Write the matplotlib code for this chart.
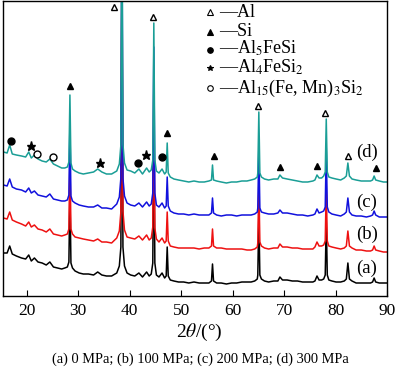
import matplotlib
matplotlib.use('Agg')
import matplotlib.pyplot as plt

plt.rcParams['font.family'] = ['Liberation Serif', 'DejaVu Serif']
plt.rcParams['mathtext.fontset'] = 'stix'

# 2theta grid shared by the four patterns (deg)
two_theta = [15.5, 16.2, 16.7, 17.2, 18.0, 19.0, 19.8, 20.4, 20.9, 21.5,
             22.2, 23.0, 23.8, 24.5, 25.2, 26.0, 26.8, 27.4, 27.9, 28.2,
             28.4, 28.6, 28.9, 29.4, 30.2, 31.0, 32.0, 33.0, 33.8, 34.6,
             35.5, 36.5, 37.5, 38.0, 38.3, 38.5, 38.7, 39.0, 39.5, 40.2,
             41.0, 41.8, 42.5, 43.3, 43.8, 44.2, 44.5, 44.7, 44.9, 45.2,
             45.7, 46.3, 46.8, 47.1, 47.3, 47.5, 47.9, 48.6, 49.5, 50.5,
             51.5, 52.5, 53.5, 54.5, 55.4, 55.9, 56.1, 56.3, 56.9, 57.8,
             58.8, 59.8, 60.8, 61.8, 62.8, 63.6, 64.3, 64.8, 64.9, 65.1,
             65.3, 65.6, 66.2, 67.0, 68.0, 68.8, 69.2, 69.7, 70.6, 71.6,
             72.6, 73.6, 74.6, 75.6, 76.0, 76.4, 76.8, 77.3, 77.7, 78.0,
             78.2, 78.4, 78.7, 79.3, 80.1, 81.0, 81.7, 82.1, 82.4, 82.7,
             83.2, 84.0, 85.0, 86.0, 86.8, 87.2, 87.5, 87.8, 88.5, 89.3,
             90.0]

# intensities (a.u., curves already stacked)
int_a = [43, 43, 50, 42, 40, 38, 37, 41, 35, 38,
         34, 33, 31, 34, 29, 28, 27, 28, 29, 34,
         106, 33, 28, 25, 23, 22, 22, 21, 24, 21,
         20, 20, 23, 30, 49, 319, 49, 30, 23, 21,
         20, 23, 19, 24, 20, 22, 33, 175, 33, 21,
         19, 23, 18, 20, 49, 20, 16, 15, 14, 14,
         13, 14, 13, 13, 13, 15, 32, 15, 13, 13,
         12, 13, 13, 14, 14, 14, 15, 17, 21, 82,
         21, 17, 15, 14, 15, 15, 19, 16, 16, 15,
         15, 14, 14, 14, 15, 20, 16, 16, 17, 21,
         76, 21, 16, 15, 14, 14, 15, 17, 33, 17,
         15, 13, 13, 13, 13, 14, 18, 14, 13, 13,
         13]
int_b = [78, 77, 84, 76, 74, 72, 70, 74, 69, 71,
         67, 66, 64, 67, 62, 61, 60, 61, 62, 67,
         139, 67, 62, 59, 58, 57, 56, 55, 57, 54,
         54, 53, 58, 65, 84, 354, 85, 66, 59, 58,
         57, 60, 56, 61, 56, 58, 69, 211, 68, 57,
         54, 58, 53, 55, 84, 55, 50, 49, 48, 48,
         48, 48, 47, 48, 48, 50, 67, 50, 48, 48,
         47, 47, 47, 47, 46, 46, 47, 49, 53, 114,
         54, 50, 48, 47, 48, 48, 52, 49, 49, 48,
         48, 47, 47, 47, 49, 54, 50, 50, 51, 55,
         110, 55, 50, 49, 48, 47, 48, 50, 65, 50,
         48, 46, 46, 45, 45, 46, 50, 46, 45, 44,
         44]
int_c = [111, 110, 117, 109, 107, 106, 104, 108, 103, 105,
         101, 100, 99, 102, 97, 96, 95, 95, 96, 101,
         173, 100, 95, 93, 91, 90, 89, 89, 91, 88,
         88, 87, 92, 99, 118, 388, 118, 100, 93, 91,
         90, 93, 89, 94, 90, 92, 103, 249, 103, 91,
         89, 93, 88, 90, 119, 90, 85, 83, 82, 82,
         81, 82, 81, 81, 81, 83, 98, 83, 81, 80,
         81, 81, 80, 81, 81, 81, 82, 84, 88, 149,
         88, 84, 83, 82, 82, 83, 86, 83, 83, 82,
         81, 81, 80, 81, 82, 87, 83, 84, 85, 89,
         148, 89, 84, 82, 81, 80, 82, 84, 98, 84,
         81, 80, 80, 79, 80, 81, 85, 81, 79, 79,
         79]
int_d = [144, 143, 151, 142, 141, 140, 139, 144, 138, 141,
         137, 135, 134, 137, 132, 130, 128, 128, 129, 134,
         201, 133, 127, 125, 123, 122, 123, 124, 127, 124,
         122, 122, 125, 132, 151, 421, 152, 133, 126, 125,
         123, 127, 122, 128, 124, 126, 136, 273, 136, 125,
         123, 127, 122, 124, 153, 123, 119, 117, 116, 115,
         114, 115, 114, 114, 115, 116, 131, 116, 115, 114,
         113, 114, 114, 115, 115, 116, 117, 119, 123, 184,
         123, 119, 117, 116, 117, 117, 121, 118, 117, 116,
         115, 114, 114, 115, 116, 121, 118, 118, 120, 124,
         177, 124, 119, 118, 117, 116, 118, 120, 133, 120,
         117, 116, 115, 115, 115, 116, 120, 116, 115, 114,
         114]

curve_labels = ['(a)', '(b)', '(c)', '(d)']
curve_colors = ['black', '#ee1111', '#1111dd', '#1a9e96']

# phase identification symbols (2theta, height)
al_x, al_y = [37.0, 44.5, 64.9, 77.9, 82.4], [289, 279, 190, 183, 140]
si_x, si_y = [28.4, 47.2, 56.4, 69.2, 76.4, 87.8], [210, 163, 140, 129, 130, 128]
al5_x, al5_y = [16.95, 41.6, 46.3], [155, 133, 139]
al4_x, al4_y = [20.8, 34.2, 43.2], [150, 133, 141]
al15_x, al15_y = [22.0, 25.1], [142, 139]

phase_names = ['Al', 'Si', 'Al$_5$FeSi', 'Al$_4$FeSi$_2$', 'Al$_{15}$(Fe, Mn)$_3$Si$_2$']

fig = plt.figure(figsize=(4, 3.71), dpi=100)
ax = fig.add_axes([3 / 400, 75 / 371, 384 / 400, 295 / 371])

for y, c in zip([int_a, int_b, int_c, int_d], curve_colors):
    ax.plot(two_theta, y, color=c, lw=1.1)

ms = 5
ax.plot(al_x, al_y, ls='none', marker='^', ms=ms, mfc='white', mec='black', mew=1.0)
ax.plot(si_x, si_y, ls='none', marker='^', ms=ms, color='black')
ax.plot(al5_x, al5_y, ls='none', marker='o', ms=ms, color='black')
ax.plot(al4_x, al4_y, ls='none', marker='*', ms=ms + 1.5, color='black')
ax.plot(al15_x, al15_y, ls='none', marker='o', ms=ms, mfc='white', mec='black', mew=1.0)

# legend drawn by hand: symbol, dash, name
leg_marker_y = [284, 264, 246, 228, 208]
leg_text_y = [279, 260, 242, 223, 203]
leg_styles = [dict(marker='^', mfc='white', mec='black'),
              dict(marker='^', color='black'),
              dict(marker='o', color='black'),
              dict(marker='*', color='black'),
              dict(marker='o', mfc='white', mec='black')]
for name, my, ty, st in zip(phase_names, leg_marker_y, leg_text_y, leg_styles):
    ax.plot([55.6], [my], ls='none', ms=4, mew=0.8, **st)
    ax.text(57.4, ty, '\u2014' + name, fontsize=13, va='baseline', ha='left')

for lab, h in zip(curve_labels, [28, 62, 94, 144]):
    ax.text(86.1, h, lab, fontsize=13.5, ha='center', va='center')

ax.set_xlim(15.4, 90)
ax.set_ylim(0, 295)
ax.set_xticks([20, 30, 40, 50, 60, 70, 80, 90])
ax.set_yticks([])
ax.tick_params(axis='x', direction='in', length=4, width=0.8, labelsize=12.5, pad=5)
for s in ax.spines.values():
    s.set_linewidth(1.0)

fig.text(199 / 400, 1 - 332 / 371, r'2$\theta$/(°)', fontsize=14, ha='center', va='center')
fig.text(200 / 400, 1 - 359 / 371, '(a) 0 MPa; (b) 100 MPa; (c) 200 MPa; (d) 300 MPa',
         fontsize=10.4, ha='center', va='center')

fig.savefig('out.png', dpi=100)
